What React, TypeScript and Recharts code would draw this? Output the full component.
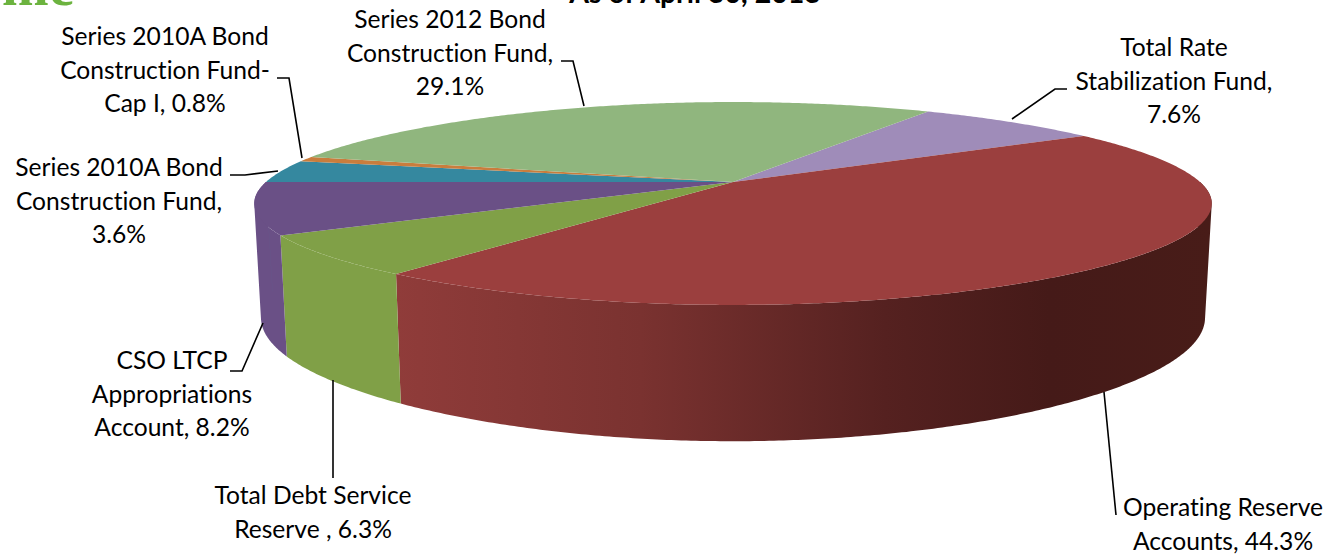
import React from "react";
import { PieChart, Pie } from "recharts";

// Fund shares, in percent, clockwise from the Total Rate Stabilization slice.
const fundNames = [
  "Total Rate Stabilization Fund",
  "Operating Reserve Accounts",
  "Total Debt Service Reserve",
  "CSO LTCP Appropriations Account",
  "Series 2010A Bond Construction Fund",
  "Series 2010A Bond Construction Fund-Cap I",
  "Series 2012 Bond Construction Fund",
];
const fundShares = [7.6, 44.3, 6.3, 8.2, 3.6, 0.8, 29.1];
const topColors = ["#9f8cb9", "#9b3f3e", "#80a047", "#6a5086", "#35889f", "#c97d3d", "#90b67e"];
const wallStops = [
  [["0", "#9f8cb9"], ["1", "#9f8cb9"]],
  [["0", "#903c3a"], ["0.3", "#7a3230"], ["0.6", "#552120"], ["0.8", "#451a18"], ["1", "#481c18"]],
  [["0", "#80a047"], ["1", "#80a047"]],
  [["0", "#6a5086"], ["1", "#6a5086"]],
  [["0", "#35889f"], ["1", "#35889f"]],
  [["0", "#c97d3d"], ["1", "#c97d3d"]],
  [["0", "#90b67e"], ["1", "#90b67e"]],
];
const labelLines = [
  ["Total Rate", "Stabilization Fund,", "7.6%"],
  ["Operating Reserve", "Accounts, 44.3%"],
  ["Total Debt Service", "Reserve , 6.3%"],
  ["CSO LTCP", "Appropriations", "Account, 8.2%"],
  ["Series 2010A Bond", "Construction Fund,", "3.6%"],
  ["Series 2010A Bond", "Construction Fund-", "Cap I, 0.8%"],
  ["Series 2012 Bond", "Construction Fund,", "29.1%"],
];

const chartData = fundNames.map((name, i) => ({ name, value: fundShares[i] }));

// Label placement: centre x, first baseline y, and the leader polyline.
const labelLayout = [
  { x: 1174, y: 56, line: "1067,89 1055,89 1012,119" },
  { x: 1223, y: 516, line: "1116,515 1104,392" },
  { x: 313, y: 504, line: "333,478 333,380" },
  { x: 172, y: 369, line: "230,371 242,371 263,323" },
  { x: 119, y: 176, line: "230,175 245,175 278,171" },
  { x: 165, y: 45, line: "277,78 289,78 302,158" },
  { x: 450, y: 28, line: "561,61 573,61 584,106" },
];

// Perspective model of the disc, top and bottom faces.
const CX = 733;
const CY = 182;
const RX = 467;
const RY = 96.9;
const TILT = 0.2118;
const BOTTOM_CY = 291.5;
const BOTTOM_RY = 118;
const BOTTOM_SX = 0.986;

const toRad = (deg: number) => (deg * Math.PI) / 180;

// Slight lens curve on the horizontal: mid-radius points sit a little closer to the centre.
const lens = (t: number) => t * (0.96 + 0.04 * t * t);

const rimTop = (deg: number) => {
  const u = Math.cos(toRad(deg));
  const v = Math.sin(toRad(deg));
  const w = 1 + TILT * v;
  return [CX + RX * lens(u / w), CY - (RY * v) / w];
};

const rimBottom = (deg: number) => {
  const u = Math.cos(toRad(deg));
  const v = Math.sin(toRad(deg));
  const w = 1 + TILT * v;
  return [CX + BOTTOM_SX * RX * lens(u / w), BOTTOM_CY - (BOTTOM_RY * v) / w];
};

const sampleAngles = (from: number, to: number) => {
  const steps = Math.max(2, Math.ceil(Math.abs(to - from) * 2));
  return Array.from({ length: steps + 1 }, (_, i) => from + ((to - from) * i) / steps);
};

const TopFace = (props: any) => {
  const pts = sampleAngles(props.startAngle, props.endAngle).map(rimTop);
  const d = `M${CX},${CY}L` + pts.map((p) => `${p[0].toFixed(2)},${p[1].toFixed(2)}`).join("L") + "Z";
  return <path d={d} fill={topColors[props.index]} />;
};

const signedArea = (poly: number[][]) =>
  poly.reduce((sum, p, i) => {
    const q = poly[(i + 1) % poly.length];
    return sum + p[0] * q[1] - q[0] * p[1];
  }, 0);

// Side wall: only the part of the rim facing the viewer. Each strip is wound the
// same way so the outline past the rim's turning points stays filled.
const SideWall = (props: any) => {
  const hi = Math.max(props.startAngle, props.endAngle);
  const lo = Math.min(props.startAngle, props.endAngle);
  const ranges: [number, number][] = [];
  for (const k of [0, -360]) {
    const from = Math.min(hi, 360 + k);
    const to = Math.max(lo, 180 + k);
    if (from > to) ranges.push([from, to]);
  }
  if (!ranges.length) return <g />;
  const id = `wall-${props.index}`;
  const stops = wallStops[props.index];
  const samples = sampleAngles(ranges[0][0], ranges[0][1]);
  let d = "";
  const xs: number[] = [];
  for (let i = 0; i + 1 < samples.length; i++) {
    let quad = [rimTop(samples[i]), rimTop(samples[i + 1]), rimBottom(samples[i + 1]), rimBottom(samples[i])];
    if (signedArea(quad) < 0) quad = quad.reverse();
    quad.forEach((p) => xs.push(p[0]));
    d += "M" + quad.map((p) => `${p[0].toFixed(2)},${p[1].toFixed(2)}`).join("L") + "Z";
  }
  return (
    <g>
      <defs>
        <linearGradient id={id} gradientUnits="userSpaceOnUse" x1={Math.min(...xs)} x2={Math.max(...xs)} y1={0} y2={0}>
          {stops.map(([o, c]) => (
            <stop key={o} offset={o} stopColor={c} />
          ))}
        </linearGradient>
      </defs>
      <path d={d} fill={`url(#${id})`} />
    </g>
  );
};

const FundLabel = (props: any) => {
  const i = props.index;
  const spot = labelLayout[i];
  return (
    <g>
      <polyline points={spot.line} fill="none" stroke="#000" strokeWidth={1.6} />
      <text
        x={spot.x}
        y={spot.y}
        textAnchor="middle"
        fontFamily="Lato"
        fontSize={24.6}
        fill="#000"
        style={{ fontVariantLigatures: "none" }}
      >
        {labelLines[i].map((t, j) => (
          <tspan key={j} x={spot.x} y={spot.y + j * 33.6}>
            {t}
          </tspan>
        ))}
      </text>
    </g>
  );
};

export default function App() {
  const pieProps = {
    data: chartData,
    dataKey: "value",
    nameKey: "name",
    cx: CX,
    cy: CY,
    outerRadius: RX,
    startAngle: 59.3,
    endAngle: -300.7,
    paddingAngle: 0,
    stroke: "none",
    isAnimationActive: false,
  };
  return (
    <div style={{ position: "fixed", left: 0, top: 0, width: 1331, height: 556, overflow: "hidden", background: "#fff" }}>
      <PieChart width={1331} height={556} margin={{ top: 0, right: 0, bottom: 0, left: 0 }}>
        <text x={695} y={3} textAnchor="middle" fontFamily="Lato" fontWeight={700} fontSize={28.5} fill="#000">
          As of April 30, 2013
        </text>
        <text x={2} y={5} fontFamily="Liberation Serif" fontWeight={700} fontSize={56} fill="#6cb33f">
          mc
        </text>
        <Pie {...pieProps} shape={SideWall} />
        <Pie {...pieProps} shape={TopFace} label={FundLabel} labelLine={false} />
      </PieChart>
    </div>
  );
}
